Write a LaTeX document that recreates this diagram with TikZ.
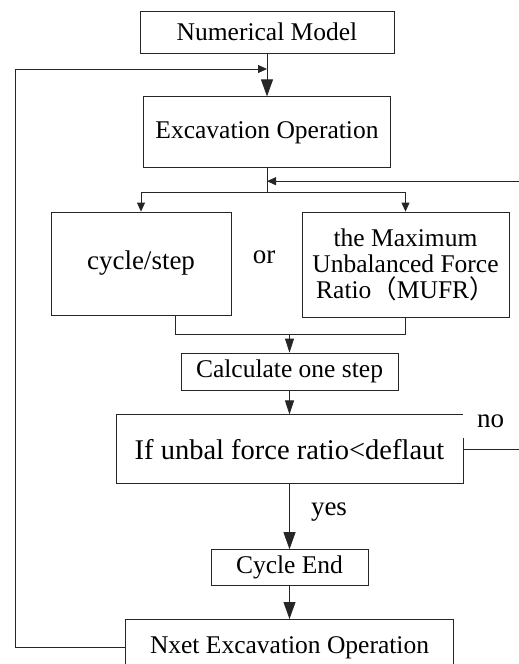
\documentclass[tikz,border=0pt]{standalone}
\usepackage{fontspec}
\setmainfont{Liberation Serif}
\newfontfamily\cjk{Noto Sans CJK SC}
\usetikzlibrary{arrows.meta,positioning}
\tikzset{
    box/.style={
                draw=black!85,
                line width=0.8pt,
                inner sep=0pt,
                align=center,
                font=\fontsize{25.5pt}{26pt}\selectfont
            },
        tag/.style={
                inner sep=0pt,
                font=\fontsize{27pt}{30pt}\selectfont
            },
        line/.style={draw=black!85, line width=0.8pt},
        big arrow/.style={line, -{Triangle[length=17pt,width=12pt]}},
        mid arrow/.style={line, -{Triangle[length=14pt,width=9pt]}},
        small arrow/.style={line, -{Triangle[length=9pt,width=8pt]}},
}

\begin{document}
\begin{tikzpicture}[x=1pt,y=-1pt]
\useasboundingbox (0,0) rectangle (519,664);
% Main column
\node[box, minimum width=254pt, minimum height=42pt] (model) at (267,32) {Numerical Model};
\node[box, minimum width=247pt, minimum height=71pt, below=43pt of model] (excav) {Excavation Operation};
% Two options
\node[box, minimum width=180pt, minimum height=103pt,
    font=\fontsize{27pt}{30pt}\selectfont] (cycle) at (141,263.5) {cycle/step};
\node[box, minimum width=207pt, minimum height=105pt] (mufr) at (405.5,264.5)
    {the Maximum\\Unbalanced Force\\Ratio{\cjk （}MUFR{\cjk ）}};
\node[tag] (or) at (264,257) {or};
% Calculation loop
\node[box, minimum width=217pt, minimum height=37pt] (calc) at (289.5,371.5) {Calculate one step};
\node[box, minimum width=347pt, minimum height=69pt, below=24pt of calc,
    font=\fontsize{28.5pt}{30pt}\selectfont] (check) {If unbal force ratio<deflaut};
\node[tag, fill=white, minimum width=56pt, minimum height=33pt] (no) at (490.5,421.5) {no};
\node[box, minimum width=157pt, minimum height=36pt, below=65pt of check] (cend) {Cycle End};
\node[tag] (yes) at (329,512) {yes};
\node[box, minimum width=328pt, minimum height=56pt, below=33pt of cend] (next) {Nxet Excavation Operation};
% Joints
\coordinate (loopin) at (model.south |- 0,69);
\coordinate (rejoin) at ([yshift=-13pt]excav.south);
\coordinate (split) at ([yshift=-24pt]excav.south);
\coordinate (merge) at ([yshift=18pt]calc.north);
\coordinate (noturn) at ([xshift=59pt]check.east);
% Connectors
\draw[big arrow] (model.south) -- (model.south |- excav.north);
\draw[small arrow] (next.west) -- ++(-110,0) |- (loopin);
\draw[line] (excav.south) -- (split);
\draw[small arrow] (split) -| (cycle.north);
\draw[small arrow] (split) -| (mufr.north);
\draw[small arrow] (check.east) -- (noturn) |- (rejoin);
\draw[line] ([xshift=34pt]cycle.south) |- (merge) -| (mufr.south);
\draw[mid arrow] (merge) -- (calc.north);
\draw[mid arrow] (calc) -- (check);
\draw[big arrow] (check) -- (cend);
\draw[big arrow] (cend) -- (next);
\end{tikzpicture}
\end{document}
